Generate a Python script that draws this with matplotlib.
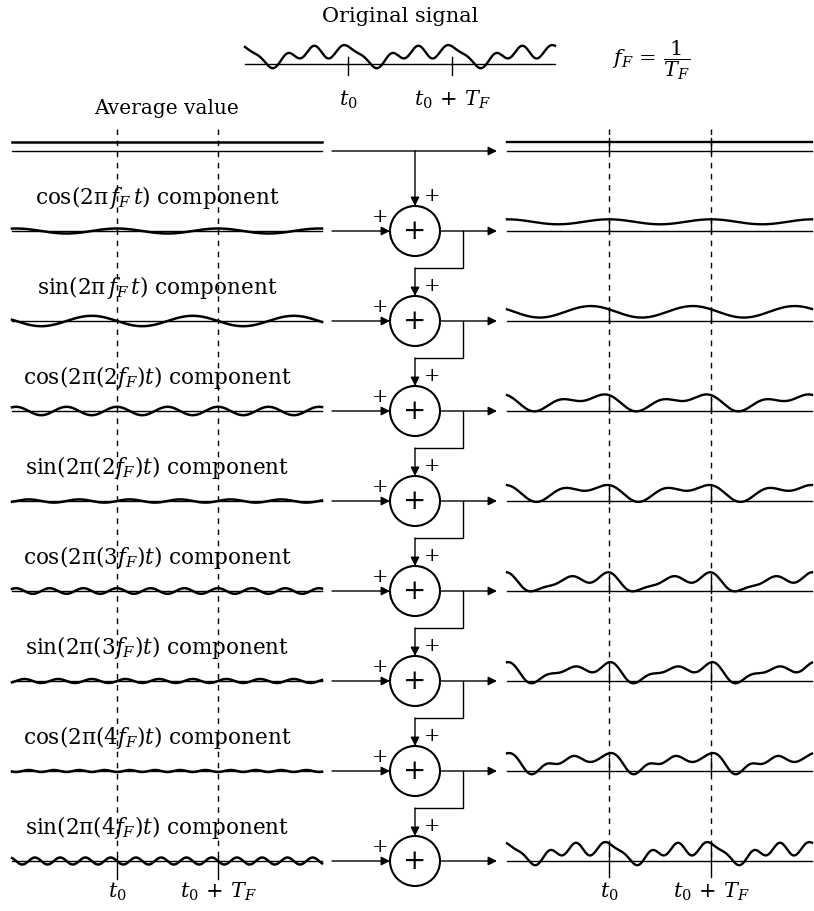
import numpy as np
import matplotlib
matplotlib.use('Agg')
import matplotlib.pyplot as plt
from matplotlib.patches import Circle

plt.rcParams['font.family'] = ['DejaVu Serif']
plt.rcParams['mathtext.fontset'] = 'dejavuserif'

# ---------------- data (Fourier coefficients, in pixels) -------------
avg_value = 9.2
harmonics = [1, 2, 3, 4]
cos_coeffs = [2.5, 4.2, 2.8, -1.0]
sin_coeffs = [-5.2, 1.6, 2.0, -3.5]
component_labels = [
    r'cos(2π$\,f_F\,t$) component',
    r'sin(2π$\,f_F\,t$) component',
    r'cos(2π(2$f_F$)$t$) component',
    r'sin(2π(2$f_F$)$t$) component',
    r'cos(2π(3$f_F$)$t$) component',
    r'sin(2π(3$f_F$)$t$) component',
    r'cos(2π(4$f_F$)$t$) component',
    r'sin(2π(4$f_F$)$t$) component',
]
tick_labels = [r'$t_0$', r'$t_0\,+\,T_F$']

# ---------------- layout -------------
W, H = 814, 912
fig = plt.figure(figsize=(W / 100, H / 100), dpi=100)
ax = fig.add_axes([0, 0, 1, 1])
ax.set_xlim(0, W)
ax.set_ylim(H, 0)
ax.axis('off')

LX0, LX1, LT0, LPER = 12, 322, 117, 101
RX0, RX1, RT0, RPER = 507, 812, 609, 102
row_y = [152] + [232 + 90 * i for i in range(8)]
SX, SR, BX = 415, 25, 463
K = 'black'

components = []
for k, a, b in zip(harmonics, cos_coeffs, sin_coeffs):
    components.append(('cos', k, a))
    components.append(('sin', k, b))


def comp_val(kind, k, c, ph):
    th = 2 * np.pi * k * ph
    return c * (np.cos(th) if kind == 'cos' else np.sin(th))


def partial_sum(ph, n):
    s = np.full_like(ph, avg_value)
    for kind, k, c in components[:n]:
        s = s + comp_val(kind, k, c, ph)
    return s


xl = np.linspace(LX0, LX1, 800)
phl = (xl - LT0) / LPER
xr = np.linspace(RX0, RX1, 800)
phr = (xr - RT0) / RPER

# dashed reference lines
for x0 in (LT0, LT0 + LPER, RT0, RT0 + RPER):
    ax.plot([x0, x0], [130, row_y[-1]], color=K, lw=1.0, ls=(0, (4, 4)))

# left column
ax.text((LX0 + LX1) / 2, 108, 'Average value', ha='center', va='center', fontsize=14.5)
ax.plot([LX0, LX1], [row_y[0], row_y[0]], color=K, lw=1.0)
ax.plot([LX0, LX1], [row_y[0] - avg_value] * 2, color=K, lw=1.8)
for i, (kind, k, c) in enumerate(components):
    y = row_y[i + 1]
    ax.text(157, y - 34, component_labels[i], ha='center', va='center', fontsize=15.5)
    ax.plot([LX0, LX1], [y, y], color=K, lw=1.0)
    ax.plot(xl, y - comp_val(kind, k, c, phl), color=K, lw=1.8)

# right column
for i in range(9):
    y = row_y[i]
    ax.plot([RX0, RX1], [y, y], color=K, lw=1.0)
    ax.plot(xr, y - partial_sum(phr, i), color=K, lw=1.7)
    for x0 in (RT0, RT0 + RPER):
        if i < 8:
            ax.plot([x0, x0], [y - 13, y + 2], color=K, lw=1.0)
        else:
            ax.plot([x0, x0], [y - 18, y + 16], color=K, lw=1.0)
for x0 in (LT0, LT0 + LPER):
    ax.plot([x0, x0], [row_y[-1] - 5, row_y[-1] + 18], color=K, lw=1.0)

# bottom tick labels
for lbl, xs in zip(tick_labels, [(LT0, RT0), (LT0 + LPER, RT0 + RPER)]):
    for x0 in xs:
        ax.text(x0, 892, lbl, ha='center', va='center', fontsize=15)

# original signal
OX0, OX1, OT0, OPER, OY = 245, 555, 348, 104, 65
ax.text(400, 17, 'Original signal', ha='center', va='center', fontsize=15)
xo = np.linspace(OX0, OX1, 800)
ax.plot([OX0, OX1], [OY, OY], color=K, lw=1.0)
ax.plot(xo, OY - partial_sum((xo - OT0) / OPER, 8), color=K, lw=1.7)
for lbl, x0 in zip(tick_labels, (OT0, OT0 + OPER)):
    ax.plot([x0, x0], [OY - 7, OY + 11], color=K, lw=1.0)
    ax.text(x0, 100, lbl, ha='center', va='center', fontsize=15)
ax.text(612, 60, r'$f_F\,=\,\dfrac{1}{T_F}$', ha='left', va='center', fontsize=15)

# summing network
aprops = dict(arrowstyle='-|>', color=K, lw=1.0, mutation_scale=13, shrinkA=0, shrinkB=0)


def arrow(x0, y0, x1, y1):
    ax.annotate('', xy=(x1, y1), xytext=(x0, y0), arrowprops=aprops)


arrow(332, row_y[0], 497, row_y[0])
arrow(SX, row_y[0], SX, row_y[1] - SR)
for i in range(1, 9):
    y = row_y[i]
    ax.add_patch(Circle((SX, y), SR, fill=False, lw=1.5, ec=K))
    ax.text(SX, y, '+', ha='center', va='center', fontsize=20)
    ax.text(SX + 17, y - 36, '+', ha='center', va='center', fontsize=14)
    ax.text(SX - 35, y - 15, '+', ha='center', va='center', fontsize=14)
    arrow(332, y, SX - SR, y)
    arrow(SX + SR, y, 497, y)
    if i < 8:
        ax.plot([BX, BX, SX], [y, y + 37, y + 37], color=K, lw=1.0)
        arrow(SX, y + 37, SX, row_y[i + 1] - SR)

fig.savefig('out.png', dpi=100)
